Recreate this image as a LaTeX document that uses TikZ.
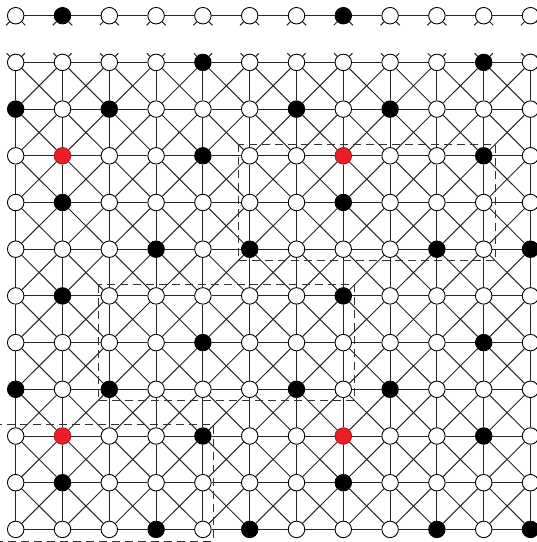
\documentclass[tikz,border=0pt]{standalone}
\definecolor{redfill}{RGB}{236,30,40}
\begin{document}
\begin{tikzpicture}[x=1pt,y=-1pt,
  pw/.style={circle,draw=black,fill=white,line width=0.9pt,minimum size=16.5pt,inner sep=0pt},
  pb/.style={pw,fill=black},
  pr/.style={pw,fill=redfill,draw=redfill!75!black},
  edge/.style={draw=black!85,line width=1pt},
  box/.style={draw=black!80,line width=0.9pt,dash pattern=on 8pt off 5pt}]
\useasboundingbox (0,0) rectangle (537,542);
\clip (0,0) rectangle (537,542);
% nodes
\foreach \r/\spec in {
  0/{w,b,w,w,w,w,w,b,w,w,w,w},
  1/{w,w,w,w,b,w,w,w,w,w,b,w},
  2/{b,w,b,w,w,w,b,w,b,w,w,w},
  3/{w,r,w,w,b,w,w,r,w,w,b,w},
  4/{w,b,w,w,w,w,w,b,w,w,w,w},
  5/{w,w,w,b,w,b,w,w,w,b,w,b},
  6/{w,b,w,w,w,w,w,b,w,w,w,w},
  7/{w,w,w,w,b,w,w,w,w,w,b,w},
  8/{b,w,b,w,w,w,b,w,b,w,w,w},
  9/{w,r,w,w,b,w,w,r,w,w,b,w},
  10/{w,b,w,w,w,w,w,b,w,w,w,w},
  11/{w,w,w,b,w,b,w,w,w,b,w,b}} {
  \foreach \s [count=\c from 0] in \spec {
    \node[p\s] (n-\r-\c) at ({15.7+46.8*\c},{15.7+46.7*\r}) {};
  }
}
% top row: horizontals and stubs
\foreach \c in {0,...,11} {
  \pgfmathtruncatemacro\cn{\c+1}
  \ifnum\c<11 \draw[edge] (n-0-\c) -- (n-0-\cn); \fi
  \draw[edge] (n-0-\c.south east) -- ++(3.5,3.5);
  \draw[edge] (n-0-\c.south west) -- ++(-3.5,3.5);
  \draw[edge] (n-1-\c.north east) -- ++(3,-3);
  \draw[edge] (n-1-\c.north west) -- ++(-3,-3);
}
% grid edges
\foreach \r in {1,...,11} {
  \foreach \c in {0,...,11} {
    \pgfmathtruncatemacro\rn{\r+1}
    \pgfmathtruncatemacro\cn{\c+1}
    \pgfmathtruncatemacro\cp{\c-1}
    \ifnum\c<11 \draw[edge] (n-\r-\c) -- (n-\r-\cn); \fi
    \ifnum\r<11
      \draw[edge] (n-\r-\c) -- (n-\rn-\c);
      \ifnum\c<11 \draw[edge] (n-\r-\c) -- (n-\rn-\cn); \fi
      \ifnum\c>0 \draw[edge] (n-\r-\c) -- (n-\rn-\cp); \fi
    \fi
  }
}
% dashed boxes
\draw[box] (238,144.3) rectangle (495.3,260.7);
\draw[box] (98.3,284.5) rectangle (354.3,400.7);
\draw[box] (-44,424.3) rectangle (213.3,541);
\end{tikzpicture}
\end{document}
